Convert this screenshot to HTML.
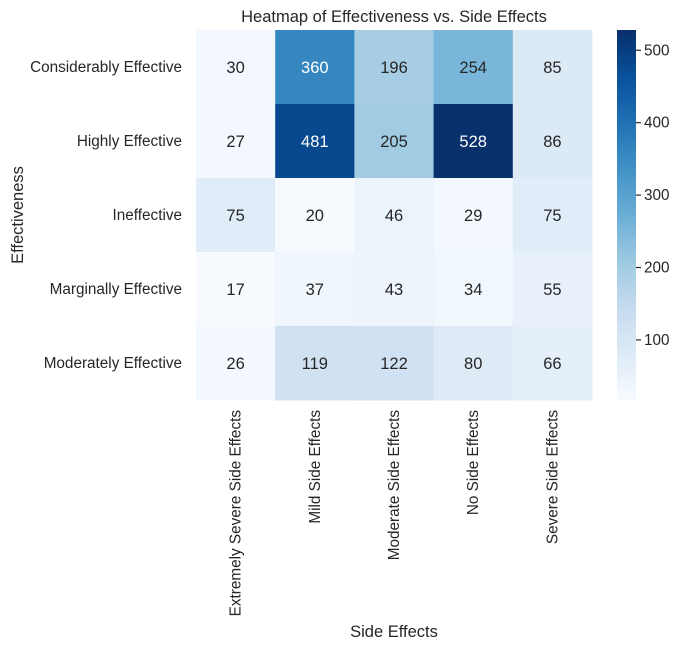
<!DOCTYPE html>
<html><head><meta charset="utf-8"><style>
html,body{margin:0;padding:0;background:#fff;}
svg text{font-family:"Liberation Sans",Arial,sans-serif;fill:#262626;}
</style></head><body>
<svg id="chart" width="684" height="649" xmlns="http://www.w3.org/2000/svg">
<text x="394" y="22" text-anchor="middle" font-size="16.5">Heatmap of Effectiveness vs. Side Effects</text>
<text transform="translate(23,215) rotate(-90)" text-anchor="middle" font-size="16.5">Effectiveness</text>
<text x="394" y="637" text-anchor="middle" font-size="16.5">Side Effects</text>
<g id="cells"></g><g id="ylabels"></g><g id="xlabels"></g><g id="cbar"></g>
</svg>
<script>
const rowLabels=["Considerably Effective","Highly Effective","Ineffective","Marginally Effective","Moderately Effective"];
const colLabels=["Extremely Severe Side Effects","Mild Side Effects","Moderate Side Effects","No Side Effects","Severe Side Effects"];
const row0=[30,360,196,254,85];
const row1=[27,481,205,528,86];
const row2=[75,20,46,29,75];
const row3=[17,37,43,34,55];
const row4=[26,119,122,80,66];
const cbarTicks=[100,200,300,400,500];
const values=[row0,row1,row2,row3,row4];
const NS="http://www.w3.org/2000/svg";
const X0=196,X1=592,Y0=30,Y1=400;
const cw=(X1-X0)/colLabels.length, ch=(Y1-Y0)/rowLabels.length;
const flat=values.flat(); const vmin=Math.min(...flat), vmax=Math.max(...flat);
const blues=["#f7fbff","#deebf7","#c6dbef","#9ecae1","#6baed6","#4292c6","#2171b5","#08519c","#08306b"].map(h=>[1,3,5].map(i=>parseInt(h.substr(i,2),16)));
function cmap(v){let t=Math.max(0,Math.min(1,(v-vmin)/(vmax-vmin)))*8;let i=Math.min(7,Math.floor(t)),f=t-i;
 return blues[i].map((c,k)=>Math.round(c+(blues[i+1][k]-c)*f));}
function lum(c){const l=c.map(x=>{x/=255;return x<=0.03928?x/12.92:Math.pow((x+0.055)/1.055,2.4)});return 0.2126*l[0]+0.7152*l[1]+0.0722*l[2];}
function mk(tag,a,p){const e=document.createElementNS(NS,tag);for(const k in a)e.setAttribute(k,a[k]);p.appendChild(e);return e;}
const cells=document.getElementById('cells');
values.forEach((row,r)=>row.forEach((v,c)=>{
 const col=cmap(v);
 const rect=mk('rect',{x:X0+c*cw,y:Y0+r*ch,width:cw+0.5,height:ch+0.5,fill:`rgb(${col})`},cells);
 
 
 const t=mk('text',{x:X0+(c+0.5)*cw,y:Y0+(r+0.5)*ch+6,'text-anchor':'middle','font-size':'16.5'},cells);
 
 
 t.style.fill=lum(col)>0.408?'#262626':'#ffffff';
 t.textContent=v;
}));
const yl=document.getElementById('ylabels');
rowLabels.forEach((l,r)=>{const t=mk('text',{x:X0-14,y:Y0+(r+0.5)*ch+5,'text-anchor':'end','font-size':'15.3'},yl);
 
 
 t.textContent=l;});
const xl=document.getElementById('xlabels');
colLabels.forEach((l,c)=>{const x=X0+(c+0.5)*cw+5;const t=mk('text',{transform:`translate(${x},${Y1+10}) rotate(-90)`,'text-anchor':'end','font-size':'15.3'},xl);
 
 
 t.textContent=l;});
const cb=document.getElementById('cbar');
const CX=617,CW=19;
const cy=v=>Y1-(v-vmin)/(vmax-vmin)*(Y1-Y0);
const N=100;
for(let i=0;i<N;i++){const v=vmin+(vmax-vmin)*i/N;const rr=mk('rect',{x:CX,y:cy(vmin+(vmax-vmin)*(i+1)/N),width:CW,height:(Y1-Y0)/N+0.6,fill:`rgb(${cmap(v+(vmax-vmin)/(2*N))})`},cb);
 
 }
cbarTicks.forEach(v=>{const y=cy(v);
 const ln=mk('line',{x1:CX+CW,x2:CX+CW+5,y1:y,y2:y,stroke:'#262626','stroke-width':1.2},cb);
 
 
 const t=mk('text',{x:CX+CW+8,y:y+5,'font-size':'15.3'},cb);
 
 
 t.textContent=v;});
</script>
</body></html>
